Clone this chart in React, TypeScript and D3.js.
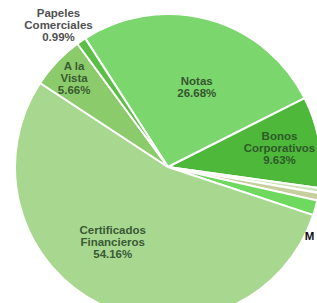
import { pie, arc, type PieArcDatum } from "d3"

const categories = [
  "Notas",
  "Bonos Corporativos",
  "Otros A",
  "Otros B",
  "Otros C",
  "Certificados Financieros",
  "A la Vista",
  "Papeles Comerciales",
]
const shares = [26.68, 9.63, 0.5, 0.8, 1.58, 54.16, 5.66, 0.99]
const sliceColors = [
  "#7bd76d",
  "#4db83a",
  "#cfe5b9",
  "#c8cf9f",
  "#6fd85e",
  "#a8d890",
  "#8ccb6b",
  "#5cbe46",
]
const labelLines: string[][] = [
  ["Notas", "26.68%"],
  ["Bonos", "Corporativos", "9.63%"],
  [],
  [],
  ["M"],
  ["Certificados", "Financieros", "54.16%"],
  ["A la", "Vista", "5.66%"],
  ["Papeles", "Comerciales", "0.99%"],
]

// label placement: angle shift from slice middle (deg), radius factor
const labelPlace: Record<number, { shift: number; k: number; color: string; anchor: string }> = {
  0: { shift: 4.5, k: 0.556, color: "#36552f", anchor: "middle" },
  1: { shift: -0.2, k: 0.739, color: "#2f5a29", anchor: "middle" },
  4: { shift: 11.2, k: 1.0, color: "#111", anchor: "start" },
  5: { shift: 10.5, k: 0.61, color: "#3a5936", anchor: "middle" },
  6: { shift: 0, k: 0.846, color: "#395c31", anchor: "middle" },
  7: { shift: -3.1, k: 1.172, color: "#505050", anchor: "middle" },
}

const W = 317
const H = 303
const cx = 168
const cy = 167
const R = 153
const deg = Math.PI / 180

type Slice = { name: string; value: number; color: string; i: number }

export default function App() {
  const data: Slice[] = categories.map((name, i) => ({
    name,
    value: shares[i],
    color: sliceColors[i],
    i,
  }))

  const layout = pie<Slice>()
    .sort(null)
    .value((d) => d.value)
    .startAngle(-32.76 * deg)
    .endAngle((360 - 32.76) * deg)

  const arcs = layout(data)
  const arcGen = arc<PieArcDatum<Slice>>().innerRadius(0).outerRadius(R)

  return (
    <svg
      width={W}
      height={H}
      style={{ position: "absolute", left: 0, top: 0, background: "#fff" }}
      fontFamily="'Liberation Sans', Arial, sans-serif"
    >
      <g transform={`translate(${cx},${cy})`}>
        {arcs.map((a) => (
          <path
            key={a.data.name}
            d={arcGen(a) ?? ""}
            fill={a.data.color}
            stroke="#fff"
            strokeWidth={2}
            strokeLinejoin="round"
          />
        ))}
        {arcs.map((a) => {
          const place = labelPlace[a.data.i]
          const lines = labelLines[a.data.i]
          if (!place || lines.length === 0) return null
          const mid = (a.startAngle + a.endAngle) / 2 + place.shift * deg
          const r = R * place.k
          const x = Math.sin(mid) * r
          const y = -Math.cos(mid) * r
          const firstBase = y - (lines.length - 1) * 6 + 4
          return (
            <text
              key={"l" + a.data.name}
              x={x}
              y={firstBase}
              textAnchor={place.anchor}
              fontSize={11.5}
              fontWeight="bold"
              fill={place.color}
            >
              {lines.map((t, j) => (
                <tspan key={j} x={x} y={firstBase + j * 12}>
                  {t}
                </tspan>
              ))}
            </text>
          )
        })}
      </g>
    </svg>
  )
}
